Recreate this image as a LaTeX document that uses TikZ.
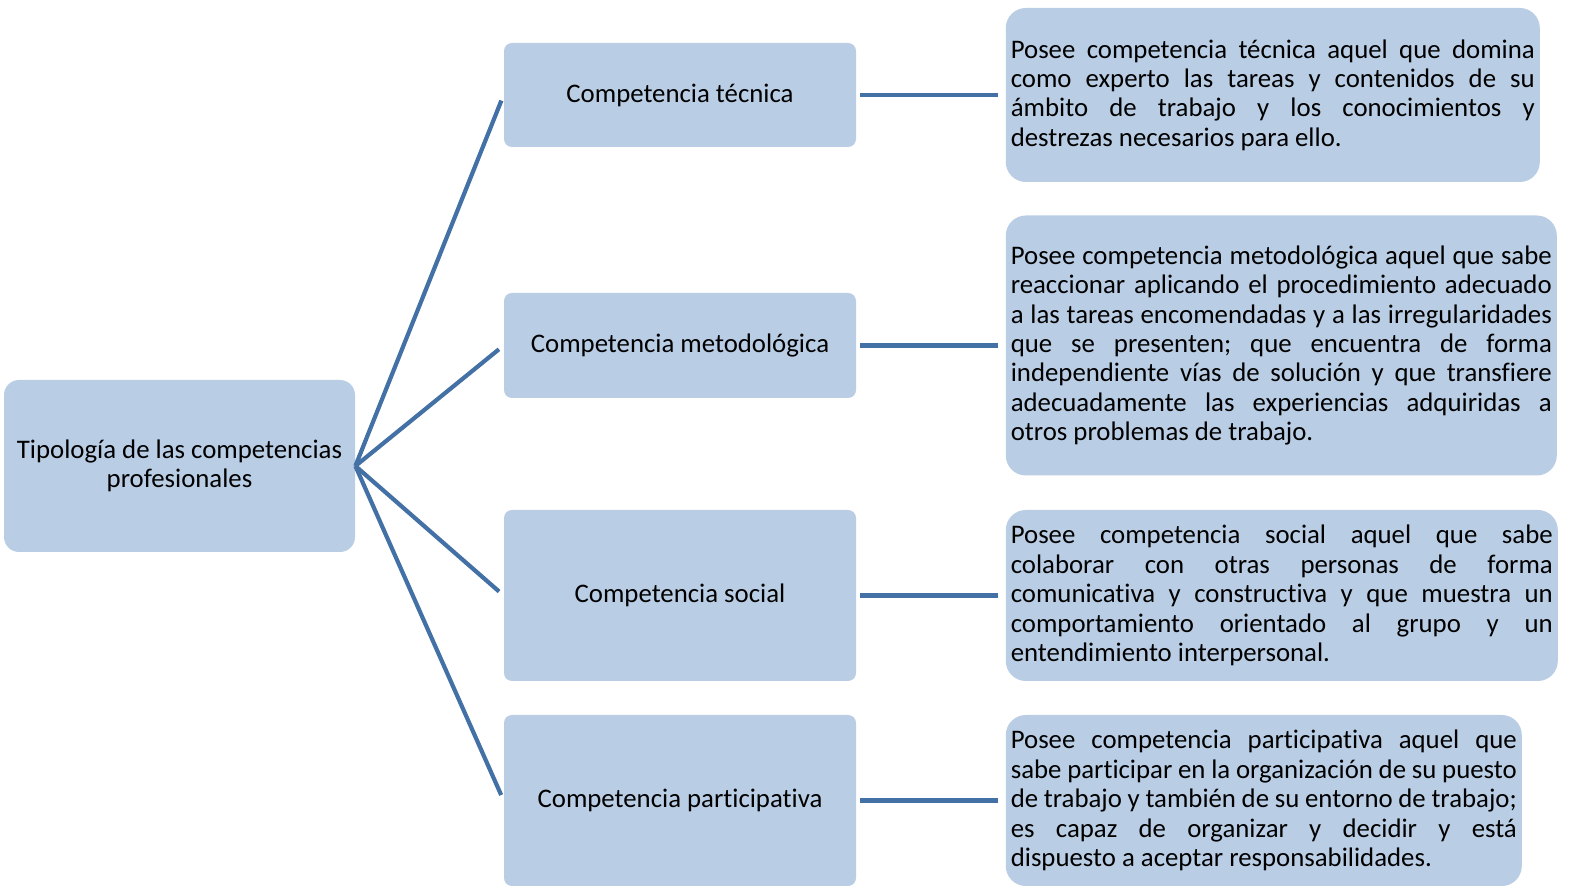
\documentclass[tikz,border=0pt]{standalone}
\usepackage{fontspec}
\setmainfont{Carlito}[Ligatures=NoCommon]
\usetikzlibrary{positioning}
\definecolor{boxblue}{HTML}{B9CDE5}
\definecolor{linkblue}{HTML}{4371A6}
\hyphenpenalty=10000
\frenchspacing

\begin{document}
\begin{tikzpicture}[x=0.5pt, y=-0.5pt, node distance=74.5pt,
    every node/.style={font=\fontsize{13.4pt}{14.7pt}\selectfont, text=black},
    rootbox/.style={fill=boxblue, rounded corners=7.5pt, minimum width=175.5pt, minimum height=86pt, align=center},
    kindbox/.style={fill=boxblue, rounded corners=4pt, minimum width=176pt, align=center},
    infobox/.style={fill=boxblue, rounded corners=10pt, inner xsep=2.5pt, align=justify, anchor=west},
    link/.style={draw=linkblue, line width=2.1pt}]
    \useasboundingbox (0,0) rectangle (1569,886);

    %define the boxes
    \node[rootbox] (root) at (179.5,466) {Tipología de las competencias\\profesionales};
    \node[kindbox, minimum height=52pt]   (tec) at (680,95)    {Competencia técnica};
    \node[kindbox, minimum height=52.5pt] (met) at (680,345.5) {Competencia metodológica};
    \node[kindbox, minimum height=85.5pt] (soc) at (680,595.5) {Competencia social};
    \node[kindbox, minimum height=85.5pt] (par) at (680,800.5) {Competencia participativa};

    \node[infobox, text width=262pt, minimum height=87pt] (tecinfo) [right=of tec]
        {Posee competencia técnica aquel que domina\linebreak
         como experto las tareas y contenidos de su\linebreak
         ámbito de trabajo y los conocimientos y\linebreak
         destrezas necesarios para ello.};
    \node[infobox, text width=270.5pt, minimum height=130pt] (metinfo) [right=of met]
        {Posee competencia metodológica aquel que sabe\linebreak
         reaccionar aplicando el procedimiento adecuado\linebreak
         a las tareas encomendadas y a las irregularidades\linebreak
         que se presenten; que encuentra de forma\linebreak
         independiente vías de solución y que transfiere\linebreak
         adecuadamente las experiencias adquiridas a\linebreak
         otros problemas de trabajo.};
    \node[infobox, text width=271pt, minimum height=85.5pt] (socinfo) [right=of soc]
        {Posee competencia social aquel que sabe\linebreak
         colaborar con otras personas de forma\linebreak
         comunicativa y constructiva y que muestra un\linebreak
         comportamiento orientado al grupo y un\linebreak
         entendimiento interpersonal.};
    \node[infobox, text width=253pt, minimum height=85.5pt] (parinfo) [right=of par]
        {Posee competencia participativa aquel que\linebreak
         sabe participar en la organización de su puesto\linebreak
         de trabajo y también de su entorno de trabajo;\linebreak
         es capaz de organizar y decidir y está\linebreak
         dispuesto a aceptar responsabilidades.};

    %define the links
    \path[link, shorten >=3pt]
        (root.east) edge (tec.west)
                    edge (met.west)
                    edge (soc.west)
                    edge (par.west);
    \path[link, shorten <=2pt, shorten >=3.5pt]
        (tec) edge (tecinfo)
        (met) edge (metinfo)
        (soc) edge (socinfo)
        (par) edge (parinfo);
\end{tikzpicture}
\end{document}
